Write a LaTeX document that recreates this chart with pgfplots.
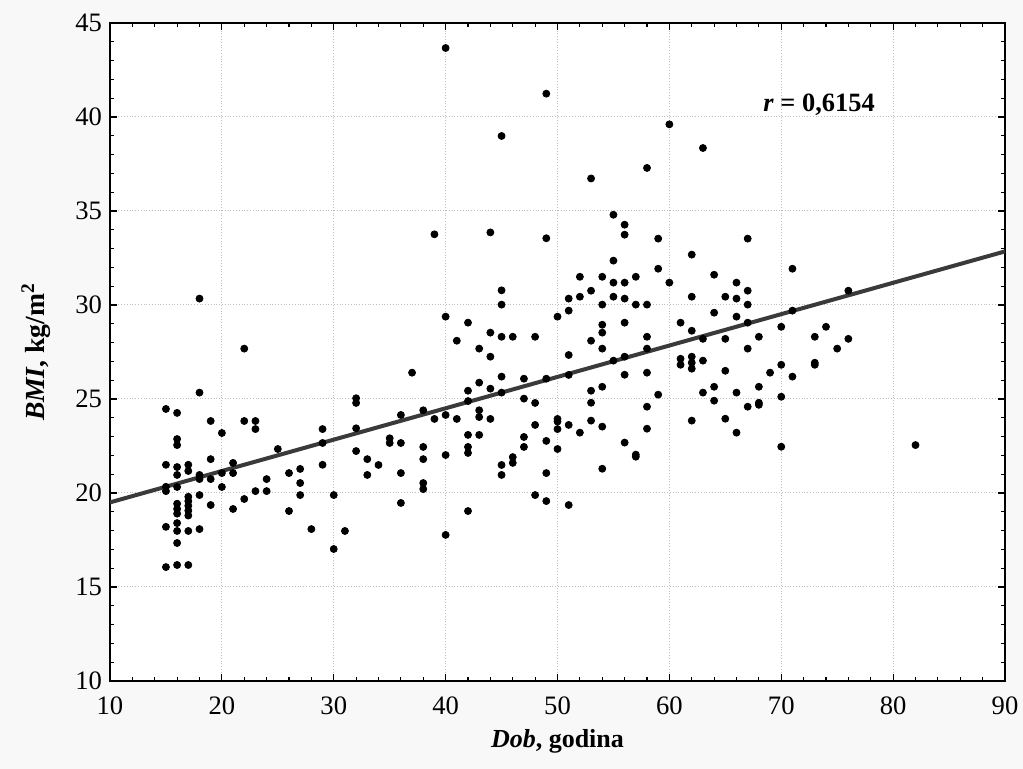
\documentclass[border=0pt]{standalone}
\usepackage{fontspec}
\setmainfont{Liberation Serif}
\usepackage{pgfplots}
\pgfplotsset{compat=1.18}
\definecolor{bgc}{RGB}{248,248,248}
\definecolor{fitc}{RGB}{58,58,58}
\begin{document}
\begin{tikzpicture}
\useasboundingbox (-55pt,-44pt) rectangle (456.5pt,340.5pt);
\fill[bgc] (-55pt,-44pt) rectangle (456.5pt,340.5pt);
\begin{axis}[
  at={(0,0)}, anchor=south west,
  scale only axis, width=447.5pt, height=329pt,
  xmin=10, xmax=90, ymin=10, ymax=45,
  xtick distance=10, ytick distance=5,
  minor x tick num=4, minor y tick num=4,
  tick align=inside, tick pos=both,
  major tick length=3.5pt, minor tick length=2pt,
  every tick/.style={black, line width=0.6pt},
  grid=major,
  major grid style={densely dotted, gray!50, line width=0.5pt},
  axis line style={line width=1pt},
  axis background/.style={fill=white},
  /pgf/number format/assume math mode=true,
  ticklabel style={font=\fontsize{13.3}{15}\selectfont},
  xticklabel style={yshift=-4.5pt},
  yticklabel style={xshift=-0.5pt},
  xlabel={\textbf{\textit{Dob}, godina}},
  ylabel={\textbf{\textit{BMI}, kg/m\textsuperscript{2}}},
  xlabel style={font=\fontsize{13}{15}\selectfont, at={(axis description cs:0.5,-0.0912)}, anchor=center},
  ylabel style={font=\fontsize{13.8}{15}\selectfont, at={(axis description cs:-0.0827,0.5)}, anchor=center, rotate=0},
  clip=true,
]
\addplot[only marks, mark=*, mark size=1.75pt, draw=black, fill=black] coordinates {
(15,24.47) (15,21.5) (15,20.33) (15,20.1) (15,18.2) (15,16.06)
(16,24.26) (16,22.87) (16,22.55) (16,21.38) (16,20.96) (16,20.32) (16,19.43) (16,19.15) (16,18.9) (16,18.4) (16,17.98) (16,17.34) (16,16.17)
(17,21.5) (17,21.17) (17,19.8) (17,19.57) (17,19.32) (17,19.06) (17,18.8) (17,17.98) (17,16.17)
(18,30.34) (18,25.34) (18,20.96) (18,20.74) (18,19.89) (18,18.08)
(19,23.83) (19,21.8) (19,20.74) (19,19.36)
(20,23.19) (20,21.06) (20,20.32)
(21,21.6) (21,21.06) (21,19.15)
(22,27.68) (22,23.83) (22,19.68)
(23,23.83) (23,23.4) (23,20.1)
(24,20.74) (24,20.1)
(25,22.34)
(26,21.06) (26,19.04)
(27,21.28) (27,20.53) (27,19.89)
(28,18.08)
(29,23.4) (29,22.66) (29,21.5)
(30,19.89) (30,17.02)
(31,17.98)
(32,25.04) (32,24.79) (32,23.44) (32,22.23)
(33,21.8) (33,20.96)
(34,21.49)
(35,22.91) (35,22.66)
(36,24.15) (36,22.66) (36,21.06) (36,19.47)
(37,26.4)
(38,24.4) (38,22.45) (38,21.8) (38,20.53) (38,20.21)
(39,33.76) (39,23.94)
(40,43.67) (40,29.38) (40,24.15) (40,22.02) (40,17.77)
(41,28.1) (41,23.94)
(42,29.06) (42,25.44) (42,24.89) (42,23.09) (42,22.45) (42,22.13) (42,19.04)
(43,27.68) (43,25.87) (43,24.4) (43,24.04) (43,23.09)
(44,33.86) (44,28.53) (44,27.25) (44,25.55) (44,23.94)
(45,38.99) (45,30.78) (45,30.02) (45,28.31) (45,26.19) (45,25.34) (45,21.49) (45,20.96)
(46,28.31) (46,21.91) (46,21.6)
(47,26.08) (47,25.02) (47,22.98) (47,22.45)
(48,28.31) (48,24.79) (48,23.62) (48,19.89)
(49,41.24) (49,33.55) (49,26.08) (49,22.77) (49,21.06) (49,19.57)
(50,29.38) (50,23.94) (50,23.8) (50,23.4) (50,22.34)
(51,30.34) (51,29.7) (51,27.34) (51,26.28) (51,23.62) (51,19.36)
(52,31.5) (52,30.44) (52,23.21)
(53,36.73) (53,30.76) (53,28.1) (53,25.44) (53,24.8) (53,23.85)
(54,31.5) (54,30.02) (54,28.95) (54,28.53) (54,27.68) (54,25.65) (54,23.53) (54,21.29)
(55,34.8) (55,32.36) (55,31.19) (55,30.44) (55,27.04)
(56,34.27) (56,33.74) (56,31.19) (56,30.34) (56,29.06) (56,27.25) (56,26.29) (56,22.68)
(57,31.5) (57,30.02) (57,22.04) (57,21.93)
(58,37.29) (58,30.02) (58,28.31) (58,27.68) (58,26.4) (58,24.59) (58,23.42)
(59,33.53) (59,31.93) (59,25.23)
(60,39.61) (60,31.19)
(61,29.06) (61,27.14) (61,26.82)
(62,32.68) (62,30.44) (62,28.63) (62,27.25) (62,26.93) (62,26.61) (62,23.85)
(63,38.35) (63,28.2) (63,27.04) (63,25.34)
(64,31.61) (64,29.59) (64,25.65) (64,24.91)
(65,30.44) (65,28.2) (65,26.5) (65,23.95)
(66,31.19) (66,30.34) (66,29.38) (66,25.34) (66,23.21)
(67,33.53) (67,30.76) (67,30.02) (67,29.06) (67,27.68) (67,24.59)
(68,28.31) (68,25.65) (68,24.8) (68,24.69)
(69,26.4)
(70,28.84) (70,26.82) (70,25.12) (70,22.46)
(71,31.93) (71,29.7) (71,26.19)
(73,28.31) (73,26.93) (73,26.82)
(74,28.84)
(75,27.68)
(76,30.76) (76,28.2)
(82,22.55)
};
\addplot[fitc, line width=2pt] coordinates {(10,19.5) (90,32.85)};
\node[anchor=base west, inner sep=0pt, font=\fontsize{13.2}{15}\selectfont\bfseries] at (axis cs:68.37,40.28) {\textit{r} = 0,6154};
\end{axis}
\end{tikzpicture}
\end{document}
